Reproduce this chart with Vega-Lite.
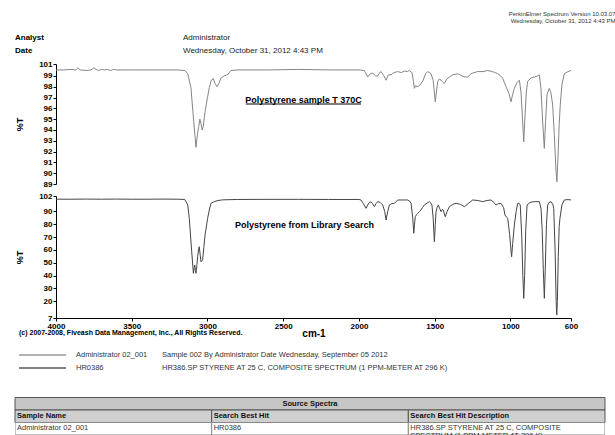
{
  "$schema": "https://vega.github.io/schema/vega-lite/v6.json",
  "padding": {"left": 14, "top": 11, "right": 0, "bottom": 0},
  "autosize": {"type": "pad"},
  "background": "white",
  "config": {
    "view": {"stroke": null},
    "font": "Liberation Sans",
    "axis": {"domainColor": "#000", "tickColor": "#000", "labelColor": "#000", "titleColor": "#000", "labelFont": "Liberation Sans", "labelFontWeight": "bold", "labelFontSize": 8, "titleFont": "Liberation Sans", "grid": false, "tickSize": 3, "labelPadding": 1, "labelOverlap": false, "labelSeparation": 0, "labelBound": false},
    "title": {"font": "Liberation Sans"}
  },
  "title": {"text": ["PerkinElmer Spectrum Version 10.03.07", "Wednesday, October 31, 2012 4:43 PM"], "anchor": "end", "frame": "bounds", "fontSize": 6, "fontWeight": "normal", "color": "#333", "lineHeight": 7, "offset": 9, "dx": 10},
  "datasets": {
    "header": [
      {"field": "Analyst", "content": "Administrator"},
      {"field": "Date", "content": "Wednesday, October 31, 2012 4:43 PM"}
    ],
    "legend": [
      {"series": "Administrator 02_001", "desc": "Sample 002 By Administrator Date Wednesday, September 05 2012"},
      {"series": "HR0386", "desc": "HR386.SP STYRENE AT 25 C, COMPOSITE SPECTRUM (1 PPM-METER AT 296 K)"}
    ],
    "table": [
      {"Sample Name": "Administrator 02_001", "Search Best Hit": "HR0386", "Search Best Hit Description": "HR386.SP STYRENE AT 25 C, COMPOSITE SPECTRUM (1 PPM-METER AT 296 K)"}
    ],
    "sample": [
      {"wn": 4000, "t": 99.55}, {"wn": 3950, "t": 99.55}, {"wn": 3900, "t": 99.6}, {"wn": 3870, "t": 99.55}, {"wn": 3855, "t": 99.75}, {"wn": 3840, "t": 99.55}, {"wn": 3800, "t": 99.5}, {"wn": 3770, "t": 99.55}, {"wn": 3750, "t": 99.75}, {"wn": 3735, "t": 99.6}, {"wn": 3720, "t": 99.5}, {"wn": 3700, "t": 99.6}, {"wn": 3680, "t": 99.55}, {"wn": 3660, "t": 99.6}, {"wn": 3640, "t": 99.5}, {"wn": 3620, "t": 99.6}, {"wn": 3600, "t": 99.55},
      {"wn": 3500, "t": 99.55}, {"wn": 3400, "t": 99.55}, {"wn": 3300, "t": 99.55}, {"wn": 3200, "t": 99.55}, {"wn": 3150, "t": 99.5}, {"wn": 3130, "t": 99.2}, {"wn": 3109, "t": 97.9}, {"wn": 3091, "t": 94.8}, {"wn": 3076, "t": 92.4}, {"wn": 3066, "t": 93.6}, {"wn": 3058, "t": 94.3}, {"wn": 3050, "t": 95.0}, {"wn": 3043, "t": 94.6}, {"wn": 3035, "t": 94.0}, {"wn": 3028, "t": 94.3}, {"wn": 3016, "t": 95.7}, {"wn": 3000, "t": 97.0}, {"wn": 2988, "t": 97.9}, {"wn": 2975, "t": 98.6}, {"wn": 2962, "t": 98.75}, {"wn": 2950, "t": 98.3}, {"wn": 2937, "t": 98.0}, {"wn": 2925, "t": 98.3}, {"wn": 2911, "t": 98.8}, {"wn": 2890, "t": 99.0}, {"wn": 2867, "t": 99.1}, {"wn": 2845, "t": 99.5},
      {"wn": 2800, "t": 99.55}, {"wn": 2600, "t": 99.55}, {"wn": 2400, "t": 99.6}, {"wn": 2200, "t": 99.55}, {"wn": 2000, "t": 99.55}, {"wn": 1965, "t": 99.5}, {"wn": 1942, "t": 98.9}, {"wn": 1925, "t": 99.2}, {"wn": 1909, "t": 99.25}, {"wn": 1890, "t": 99.0}, {"wn": 1876, "t": 99.0}, {"wn": 1860, "t": 99.35}, {"wn": 1854, "t": 99.4}, {"wn": 1835, "t": 99.0}, {"wn": 1821, "t": 98.6}, {"wn": 1805, "t": 99.1}, {"wn": 1788, "t": 99.1}, {"wn": 1770, "t": 99.3}, {"wn": 1744, "t": 99.4}, {"wn": 1720, "t": 99.3}, {"wn": 1701, "t": 99.45}, {"wn": 1680, "t": 99.4}, {"wn": 1667, "t": 99.5}, {"wn": 1650, "t": 99.3}, {"wn": 1640, "t": 98.5}, {"wn": 1634, "t": 97.85}, {"wn": 1625, "t": 98.1}, {"wn": 1617, "t": 98.0}, {"wn": 1601, "t": 98.1}, {"wn": 1590, "t": 98.3}, {"wn": 1579, "t": 98.5}, {"wn": 1560, "t": 99.2}, {"wn": 1546, "t": 99.4}, {"wn": 1524, "t": 99.2}, {"wn": 1510, "t": 98.6}, {"wn": 1496, "t": 96.6}, {"wn": 1488, "t": 97.6}, {"wn": 1480, "t": 98.5}, {"wn": 1470, "t": 98.7}, {"wn": 1458, "t": 98.6}, {"wn": 1445, "t": 98.4}, {"wn": 1436, "t": 98.3}, {"wn": 1420, "t": 98.7}, {"wn": 1403, "t": 98.9}, {"wn": 1380, "t": 99.1}, {"wn": 1348, "t": 99.2}, {"wn": 1320, "t": 99.0}, {"wn": 1300, "t": 98.9}, {"wn": 1282, "t": 98.9}, {"wn": 1260, "t": 99.2}, {"wn": 1240, "t": 99.3}, {"wn": 1216, "t": 99.4}, {"wn": 1180, "t": 99.4}, {"wn": 1150, "t": 99.5}, {"wn": 1120, "t": 99.4}, {"wn": 1100, "t": 99.3}, {"wn": 1084, "t": 99.2}, {"wn": 1065, "t": 99.0}, {"wn": 1051, "t": 98.8}, {"wn": 1040, "t": 98.4}, {"wn": 1029, "t": 98.0}, {"wn": 1010, "t": 97.4}, {"wn": 996, "t": 96.6}, {"wn": 985, "t": 97.3}, {"wn": 974, "t": 97.85}, {"wn": 955, "t": 98.4}, {"wn": 941, "t": 98.6}, {"wn": 930, "t": 97.5}, {"wn": 920, "t": 95.0}, {"wn": 912, "t": 92.9}, {"wn": 904, "t": 95.2}, {"wn": 895, "t": 97.5}, {"wn": 886, "t": 98.5}, {"wn": 865, "t": 98.8}, {"wn": 842, "t": 98.9}, {"wn": 820, "t": 99.0}, {"wn": 809, "t": 99.1}, {"wn": 798, "t": 97.8}, {"wn": 788, "t": 95.0}, {"wn": 776, "t": 92.3}, {"wn": 768, "t": 94.8}, {"wn": 758, "t": 97.3}, {"wn": 743, "t": 97.85}, {"wn": 732, "t": 97.4}, {"wn": 721, "t": 96.3}, {"wn": 710, "t": 93.5}, {"wn": 700, "t": 90.5}, {"wn": 693, "t": 89.2}, {"wn": 686, "t": 91.5}, {"wn": 678, "t": 94.5}, {"wn": 671, "t": 96.3}, {"wn": 660, "t": 98.2}, {"wn": 644, "t": 99.2}, {"wn": 620, "t": 99.4}, {"wn": 600, "t": 99.5}
    ],
    "library": [
      {"wn": 4000, "t": 99.5}, {"wn": 3900, "t": 99.5}, {"wn": 3800, "t": 99.6}, {"wn": 3700, "t": 99.5}, {"wn": 3600, "t": 99.6}, {"wn": 3500, "t": 99.5}, {"wn": 3400, "t": 99.5}, {"wn": 3300, "t": 99.6}, {"wn": 3200, "t": 99.5}, {"wn": 3150, "t": 99.3}, {"wn": 3130, "t": 95}, {"wn": 3120, "t": 84.6}, {"wn": 3104, "t": 58.6}, {"wn": 3093, "t": 41.8}, {"wn": 3088, "t": 46}, {"wn": 3084, "t": 48.3}, {"wn": 3080, "t": 44}, {"wn": 3076, "t": 41.8}, {"wn": 3070, "t": 48}, {"wn": 3065, "t": 54.7}, {"wn": 3058, "t": 61}, {"wn": 3054, "t": 62.5}, {"wn": 3048, "t": 56}, {"wn": 3043, "t": 50.8}, {"wn": 3036, "t": 51.5}, {"wn": 3032, "t": 52.2}, {"wn": 3024, "t": 62}, {"wn": 3016, "t": 71.6}, {"wn": 2999, "t": 84.6}, {"wn": 2988, "t": 91}, {"wn": 2977, "t": 96.3}, {"wn": 2955, "t": 97.6}, {"wn": 2930, "t": 98.5}, {"wn": 2900, "t": 99.0}, {"wn": 2800, "t": 99.3}, {"wn": 2600, "t": 99.4}, {"wn": 2400, "t": 99.4}, {"wn": 2200, "t": 99.3}, {"wn": 2000, "t": 99.3},
      {"wn": 1987, "t": 98.9}, {"wn": 1970, "t": 96}, {"wn": 1953, "t": 92.4}, {"wn": 1935, "t": 96.5}, {"wn": 1920, "t": 97.6}, {"wn": 1910, "t": 96}, {"wn": 1898, "t": 93.7}, {"wn": 1888, "t": 96}, {"wn": 1876, "t": 97.6}, {"wn": 1860, "t": 97}, {"wn": 1843, "t": 95.0}, {"wn": 1830, "t": 90}, {"wn": 1821, "t": 83.3}, {"wn": 1810, "t": 90}, {"wn": 1799, "t": 95.0}, {"wn": 1785, "t": 96}, {"wn": 1766, "t": 96.3}, {"wn": 1744, "t": 98.9}, {"wn": 1700, "t": 98.9}, {"wn": 1678, "t": 98.9}, {"wn": 1665, "t": 98}, {"wn": 1656, "t": 96.3}, {"wn": 1645, "t": 85}, {"wn": 1638, "t": 73.0}, {"wn": 1633, "t": 80}, {"wn": 1628, "t": 85.9}, {"wn": 1620, "t": 87.5}, {"wn": 1612, "t": 88.5}, {"wn": 1600, "t": 90}, {"wn": 1590, "t": 91.1}, {"wn": 1580, "t": 93}, {"wn": 1568, "t": 95.0}, {"wn": 1550, "t": 96.5}, {"wn": 1535, "t": 97.6}, {"wn": 1525, "t": 96.5}, {"wn": 1518, "t": 95.0}, {"wn": 1510, "t": 85}, {"wn": 1502, "t": 66.4}, {"wn": 1496, "t": 80}, {"wn": 1491, "t": 89.8}, {"wn": 1484, "t": 93}, {"wn": 1476, "t": 95.0}, {"wn": 1466, "t": 92}, {"wn": 1458, "t": 89.8}, {"wn": 1450, "t": 91.5}, {"wn": 1443, "t": 91.1}, {"wn": 1436, "t": 88}, {"wn": 1430, "t": 85.9}, {"wn": 1418, "t": 90}, {"wn": 1403, "t": 93.7}, {"wn": 1380, "t": 95.5}, {"wn": 1359, "t": 96.3}, {"wn": 1330, "t": 95.5}, {"wn": 1304, "t": 93.7}, {"wn": 1280, "t": 96}, {"wn": 1249, "t": 98.9}, {"wn": 1215, "t": 98.5}, {"wn": 1183, "t": 97.6}, {"wn": 1155, "t": 98.5}, {"wn": 1128, "t": 98.9}, {"wn": 1110, "t": 97}, {"wn": 1095, "t": 95.0}, {"wn": 1080, "t": 96}, {"wn": 1062, "t": 96.3}, {"wn": 1045, "t": 93}, {"wn": 1036, "t": 87.2}, {"wn": 1025, "t": 85.5}, {"wn": 1018, "t": 84.6}, {"wn": 1005, "t": 72}, {"wn": 995, "t": 58}, {"wn": 992, "t": 54.7}, {"wn": 985, "t": 65}, {"wn": 974, "t": 79.4}, {"wn": 962, "t": 90}, {"wn": 952, "t": 96.3}, {"wn": 945, "t": 96.5}, {"wn": 935, "t": 95.0}, {"wn": 925, "t": 70}, {"wn": 918, "t": 40}, {"wn": 912, "t": 22.3}, {"wn": 906, "t": 40}, {"wn": 899, "t": 75}, {"wn": 890, "t": 95.0}, {"wn": 870, "t": 97}, {"wn": 842, "t": 97.6}, {"wn": 809, "t": 97.6}, {"wn": 798, "t": 92.4}, {"wn": 790, "t": 75}, {"wn": 783, "t": 45}, {"wn": 776, "t": 22.3}, {"wn": 770, "t": 45}, {"wn": 762, "t": 80}, {"wn": 754, "t": 95.0}, {"wn": 745, "t": 97}, {"wn": 732, "t": 97.6}, {"wn": 720, "t": 95.5}, {"wn": 714, "t": 92.4}, {"wn": 705, "t": 60}, {"wn": 698, "t": 20}, {"wn": 694, "t": 9.3}, {"wn": 690, "t": 20}, {"wn": 684, "t": 55}, {"wn": 678, "t": 78}, {"wn": 673, "t": 84.6}, {"wn": 660, "t": 95}, {"wn": 644, "t": 98.9}, {"wn": 620, "t": 99.2}, {"wn": 600, "t": 98.9}
    ]
  },
  "concat": [
    {
      "width": 168, "height": 23,
      "data": {"name": "header"},
      "transform": [{"fold": ["field", "content"], "as": ["column", "text"]}],
      "encoding": {
        "x": {"field": "column", "type": "nominal", "scale": {"type": "point", "domain": ["field", "content"], "padding": 0}, "axis": null},
        "y": {"field": "field", "type": "nominal", "scale": {"type": "point", "domain": ["Analyst", "Date"], "padding": 0.45}, "axis": null},
        "text": {"field": "text"}
      },
      "layer": [
        {"transform": [{"filter": "datum.column == 'field'"}], "mark": {"type": "text", "align": "left", "baseline": "middle", "fontSize": 8, "fontWeight": "bold", "color": "#000"}},
        {"transform": [{"filter": "datum.column == 'content'"}], "mark": {"type": "text", "align": "left", "baseline": "middle", "fontSize": 8, "color": "#222"}}
      ]
    },
    {
      "width": 556, "height": 120,
      "layer": [
        {
          "data": {"name": "sample"},
          "mark": {"type": "line", "stroke": "#858585", "strokeWidth": 1},
          "encoding": {
            "x": {"field": "wn", "type": "quantitative", "scale": {"domain": [600, 4000], "reverse": true, "nice": false, "zero": false, "range": [41, 556]}, "axis": null},
            "y": {"field": "t", "type": "quantitative", "scale": {"domain": [89, 100.1], "nice": false, "zero": false},
                  "axis": {"offset": -41, "title": "%T", "titleFontSize": 9, "titleFontWeight": "bold", "titlePadding": 10, "values": [89, 90, 91, 92, 93, 94, 95, 96, 97, 98, 99, 100.1], "labelExpr": "datum.value > 100 ? '101' : datum.label", "minExtent": 22, "maxExtent": 22, "labelOverlap": false}}
          }
        },
        {
          "data": {"values": [{}]},
          "mark": {"type": "text", "text": "Polystyrene sample T 370C", "fontWeight": "bold", "fontSize": 9, "baseline": "middle", "align": "center"},
          "encoding": {
            "x": {"datum": 2366, "type": "quantitative", "axis": null},
            "y": {"datum": 96.8, "type": "quantitative",
                  "axis": {"offset": -41, "title": "%T", "titleFontSize": 9, "titleFontWeight": "bold", "titlePadding": 10, "values": [89, 90, 91, 92, 93, 94, 95, 96, 97, 98, 99, 100.1], "labelExpr": "datum.value > 100 ? '101' : datum.label", "minExtent": 22, "maxExtent": 22, "labelOverlap": false}}
          }
        },
        {
          "data": {"values": [{}]},
          "mark": {"type": "rule", "stroke": "#000", "strokeWidth": 1},
          "encoding": {
            "x": {"datum": 2746, "type": "quantitative", "axis": null}, "x2": {"datum": 1986},
            "y": {"datum": 96.4, "type": "quantitative",
                  "axis": {"offset": -41, "title": "%T", "titleFontSize": 9, "titleFontWeight": "bold", "titlePadding": 10, "values": [89, 90, 91, 92, 93, 94, 95, 96, 97, 98, 99, 100.1], "labelExpr": "datum.value > 100 ? '101' : datum.label", "minExtent": 22, "maxExtent": 22, "labelOverlap": false}}
          }
        }
      ]
    },
    {
      "width": 556, "height": 122,
      "title": {"text": "(c) 2007-2008, Fiveash Data Management, Inc., All Rights Reserved.", "orient": "bottom", "anchor": "start", "frame": "bounds", "fontSize": 7, "fontWeight": "bold", "color": "#000", "offset": 0, "dy": -9, "dx": 4},
      "layer": [
        {
          "data": {"name": "library"},
          "mark": {"type": "line", "stroke": "#454545", "strokeWidth": 1},
          "encoding": {
            "x": {"field": "wn", "type": "quantitative", "scale": {"domain": [600, 4000], "reverse": true, "nice": false, "zero": false, "range": [41, 556]},
                  "axis": {"title": "cm-1", "titleFontSize": 10, "titleFontWeight": "bold", "titlePadding": -2, "values": [4000, 3500, 3000, 2500, 2000, 1500, 1000, 600], "format": "d", "labelOverlap": false, "labelFlush": false}},
            "y": {"field": "t", "type": "quantitative", "scale": {"domain": [7, 102], "nice": false, "zero": false},
                  "axis": {"offset": -41, "title": "%T", "titleFontSize": 9, "titleFontWeight": "bold", "titlePadding": 10, "values": [7, 20, 30, 40, 50, 60, 70, 80, 90, 102], "minExtent": 22, "maxExtent": 22, "labelOverlap": false}}
          }
        },
        {
          "data": {"values": [{}]},
          "mark": {"type": "text", "text": "Polystyrene from Library Search", "fontWeight": "bold", "fontSize": 9, "baseline": "middle", "align": "center"},
          "encoding": {
            "x": {"datum": 2360, "type": "quantitative",
                  "axis": {"title": "cm-1", "titleFontSize": 10, "titleFontWeight": "bold", "titlePadding": -2, "values": [4000, 3500, 3000, 2500, 2000, 1500, 1000, 600], "format": "d", "labelOverlap": false, "labelFlush": false}},
            "y": {"datum": 79.5, "type": "quantitative",
                  "axis": {"offset": -41, "title": "%T", "titleFontSize": 9, "titleFontWeight": "bold", "titlePadding": 10, "values": [7, 20, 30, 40, 50, 60, 70, 80, 90, 102], "minExtent": 22, "maxExtent": 22, "labelOverlap": false}}
          }
        }
      ]
    },
    {
      "width": 169, "height": 39,
      "data": {"name": "legend"},
      "encoding": {
        "y": {"field": "series", "type": "nominal", "scale": {"type": "point", "domain": ["Administrator 02_001", "HR0386"], "padding": 1.273}, "axis": null}
      },
      "layer": [
        {
          "mark": {"type": "tick", "orient": "horizontal", "size": 47, "thickness": 1.5},
          "encoding": {
            "x": {"datum": "swatch", "type": "nominal", "scale": {"type": "band", "domain": ["swatch", "series", "desc"], "paddingInner": 0.175, "paddingOuter": 0.07}, "axis": null},
            "color": {"field": "series", "type": "nominal", "scale": {"domain": ["Administrator 02_001", "HR0386"], "range": ["#6e6e6e", "#111111"]}, "legend": null}
          }
        },
        {
          "mark": {"type": "text", "align": "left", "baseline": "middle", "fontSize": 7.5, "color": "#333"},
          "encoding": {"x": {"datum": "series", "type": "nominal", "bandPosition": 0}, "text": {"field": "series"}}
        },
        {
          "mark": {"type": "text", "align": "left", "baseline": "middle", "fontSize": 7.5, "color": "#333", "dx": 29},
          "encoding": {"x": {"datum": "desc", "type": "nominal", "bandPosition": 0}, "text": {"field": "desc"}}
        }
      ]
    },
    {
      "width": 590, "height": 50,
      "data": {"name": "table"},
      "transform": [
        {"fold": ["Sample Name", "Search Best Hit", "Search Best Hit Description"], "as": ["column", "value"]},
        {"calculate": "replace(datum.value, ', COMPOSITE ', ', COMPOSITE\\n')", "as": "cell"}
      ],
      "layer": [
        {
          "transform": [{"filter": "datum.column == 'Sample Name'"}],
          "mark": {"type": "rect", "fill": "#c6c6c6", "stroke": "#555", "strokeWidth": 1},
          "encoding": {"y": {"datum": "Source Spectra", "type": "nominal", "scale": {"type": "band", "domain": ["gap", "Source Spectra", "header", "row"], "paddingInner": 0, "paddingOuter": 0}, "axis": null}}
        },
        {
          "transform": [{"filter": "datum.column == 'Sample Name'"}],
          "mark": {"type": "text", "text": "Source Spectra", "fontWeight": "bold", "fontSize": 7.5, "baseline": "middle", "color": "#111"},
          "encoding": {"y": {"datum": "Source Spectra", "type": "nominal"}}
        },
        {
          "mark": {"type": "rect", "fill": "#cfcfcf", "stroke": "#555", "strokeWidth": 1},
          "encoding": {
            "x": {"field": "column", "type": "nominal", "scale": {"type": "band", "domain": ["Sample Name", "Search Best Hit", "Search Best Hit Description"], "paddingInner": 0, "paddingOuter": 0}, "axis": null},
            "y": {"datum": "header", "type": "nominal"}
          }
        },
        {
          "mark": {"type": "text", "fontWeight": "bold", "fontSize": 7.5, "align": "left", "baseline": "middle", "dx": 2, "color": "#111"},
          "encoding": {"x": {"field": "column", "type": "nominal", "bandPosition": 0}, "y": {"datum": "header", "type": "nominal"}, "text": {"field": "column"}}
        },
        {
          "mark": {"type": "rect", "fill": "#fff", "stroke": "#888", "strokeWidth": 1, "clip": true},
          "encoding": {"x": {"field": "column", "type": "nominal"}, "y": {"datum": "row", "type": "nominal"}}
        },
        {
          "mark": {"type": "text", "fontSize": 7.5, "align": "left", "baseline": "top", "dx": 2, "dy": 1, "color": "#333", "lineBreak": "\n", "lineHeight": 8.5, "clip": true},
          "encoding": {"x": {"field": "column", "type": "nominal", "bandPosition": 0}, "y": {"datum": "row", "type": "nominal", "bandPosition": 0}, "text": {"field": "cell"}}
        }
      ]
    }
  ],
  "columns": 1,
  "spacing": 4,
  "align": "none",
  "bounds": "full"
}
